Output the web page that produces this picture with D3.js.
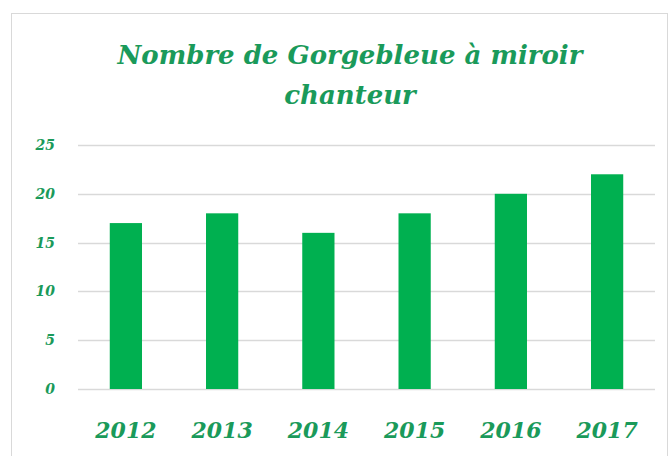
<!DOCTYPE html>
<html>
<head>
<meta charset="utf-8">
<script src="https://cdn.jsdelivr.net/npm/d3@7"></script>
<style>
  body { margin: 0; background: #fff; }
  text { font-family: "DejaVu Serif", "Liberation Serif", serif; font-style: italic; font-weight: bold; }
</style>
</head>
<body>
<svg id="chart" width="669" height="456"></svg>
<script>
// data
var years = ['2012', '2013', '2014', '2015', '2016', '2017'];
var counts = [17, 18, 16, 18, 20, 22];
var yTicks = [0, 5, 10, 15, 20, 25];
var titleLines = ['Nombre de Gorgebleue à miroir', 'chanteur'];

var green = '#00b050';
var textGreen = '#1a9a5a';

var svg = d3.select('#chart');

// chart frame
svg.append('rect')
  .attr('x', 11.5).attr('y', 13.5)
  .attr('width', 656).attr('height', 460)
  .attr('fill', '#fff')
  .attr('stroke', '#d9d9d9');

var plot = { left: 78, right: 655, top: 145, bottom: 389 };

var x = d3.scaleBand()
  .domain(years)
  .range([plot.left, plot.right])
  .paddingInner(0.665)
  .paddingOuter(0.33);

var y = d3.scaleLinear()
  .domain([0, 25])
  .range([plot.bottom, plot.top]);

// gridlines
svg.append('g')
  .selectAll('line')
  .data(yTicks)
  .join('line')
  .attr('x1', plot.left).attr('x2', plot.right)
  .attr('y1', function(d) { return Math.round(y(d)) + 0.5; })
  .attr('y2', function(d) { return Math.round(y(d)) + 0.5; })
  .attr('stroke', '#d9d9d9')
  .attr('stroke-width', 1.5);

// bars
svg.append('g')
  .selectAll('rect')
  .data(counts)
  .join('rect')
  .attr('x', function(d, i) { return x(years[i]); })
  .attr('y', function(d) { return y(d); })
  .attr('width', x.bandwidth())
  .attr('height', function(d) { return y(0) - y(d); })
  .attr('fill', green);

// y axis labels
var yAxis = d3.axisLeft(y).tickValues(yTicks).tickSize(0).tickPadding(0);
svg.append('g')
  .attr('transform', 'translate(55,0)')
  .call(yAxis)
  .call(function(g) { g.select('.domain').remove(); })
  .selectAll('text')
  .attr('fill', textGreen)
  .style('font-size', '14px')
  .style('font-family', '"DejaVu Serif", serif');

// x axis labels
var xAxis = d3.axisBottom(x).tickSize(0).tickPadding(0);
svg.append('g')
  .attr('transform', 'translate(0,' + 422 + ')')
  .call(xAxis)
  .call(function(g) { g.select('.domain').remove(); })
  .selectAll('text')
  .attr('fill', textGreen)
  .style('font-size', '22px')
  .style('font-family', '"DejaVu Serif", serif');

// title
svg.append('g')
  .selectAll('text')
  .data(titleLines)
  .join('text')
  .attr('x', 350)
  .attr('y', function(d, i) { return 64 + i * 40; })
  .attr('text-anchor', 'middle')
  .attr('fill', textGreen)
  .style('font-size', '26px')
  .text(function(d) { return d; });
</script>
</body>
</html>
